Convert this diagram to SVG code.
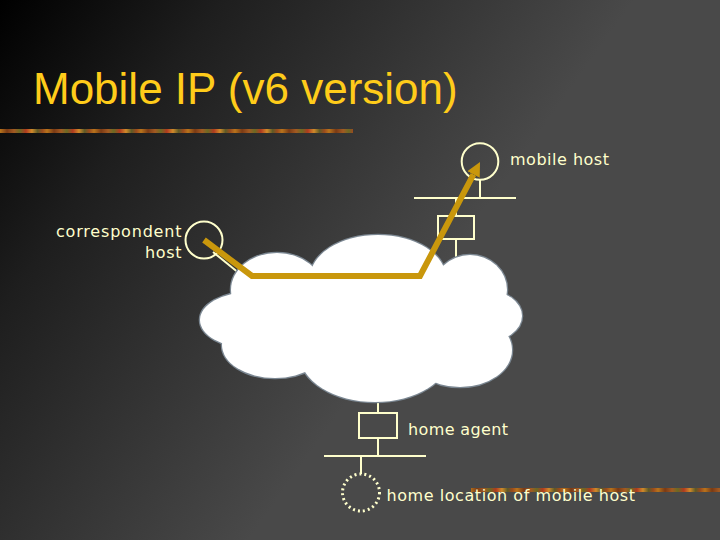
<svg xmlns="http://www.w3.org/2000/svg" width="720" height="540" viewBox="0 0 720 540">
  <defs>
    <linearGradient id="bg" gradientUnits="userSpaceOnUse" x1="0" y1="0" x2="420" y2="300">
      <stop offset="0" stop-color="#000000"/>
      <stop offset="0.35" stop-color="#1e1e1e"/>
      <stop offset="1" stop-color="#494949"/>
    </linearGradient>
    <linearGradient id="bar" gradientUnits="userSpaceOnUse" x1="0" y1="0" x2="47" y2="0" spreadMethod="repeat">
      <stop offset="0" stop-color="#b8741c"/>
      <stop offset="0.15" stop-color="#7a3a14"/>
      <stop offset="0.3" stop-color="#a35a22"/>
      <stop offset="0.42" stop-color="#6b6a23"/>
      <stop offset="0.55" stop-color="#b03a1e"/>
      <stop offset="0.68" stop-color="#d08a2a"/>
      <stop offset="0.8" stop-color="#5e5a26"/>
      <stop offset="0.9" stop-color="#9a4a1c"/>
      <stop offset="1" stop-color="#b8741c"/>
    </linearGradient>
    <marker id="ahead" viewBox="0 -7 14 14" refX="0" refY="0" markerWidth="14" markerHeight="14" markerUnits="userSpaceOnUse" orient="auto">
      <path d="M0,-7 L14,0 L0,7 z" fill="#c9970c"/>
    </marker>
  </defs>
  <style>
    .title { font-family: "Liberation Sans", Arial, sans-serif; font-size: 44px; fill: #ffcc1a; }
    .lbl { font-family: "DejaVu Sans", "Liberation Sans", sans-serif; font-size: 16px; fill: #ffffcc; }
    .net { stroke: #ffffcc; stroke-width: 2; fill: none; }
    .cloudo { fill: #ffffff; stroke: #7b8792; stroke-width: 2.5; }
    .cloudi { fill: #ffffff; stroke: none; }
    .route { stroke: #c9970c; stroke-width: 6; fill: none; stroke-linejoin: miter; }
  </style>

  <rect width="720" height="540" fill="url(#bg)"/>
  <rect x="0" y="129" width="353" height="4" fill="url(#bar)"/>
  <rect x="471" y="488" width="249" height="4" fill="url(#bar)"/>

  <text class="title" x="33" y="104">Mobile IP (v6 version)</text>

  <g id="connectors">
    <line class="net" x1="480" y1="180" x2="480" y2="198"/>
    <line class="net" x1="414" y1="198" x2="516" y2="198"/>
    <line class="net" x1="456" y1="198" x2="456" y2="216"/>
    <line class="net" x1="456" y1="239" x2="456" y2="262"/>
    <line class="net" x1="378" y1="396" x2="378" y2="413"/>
    <line class="net" x1="378" y1="438" x2="378" y2="456"/>
    <line class="net" x1="324" y1="456" x2="426" y2="456"/>
    <line class="net" x1="361" y1="456" x2="361" y2="474"/>
    <line class="net" x1="213" y1="252" x2="245" y2="278"/>
  </g>

  <g id="internet">
    <g class="cloudo">
      <ellipse cx="277" cy="290" rx="46" ry="37"/>
      <ellipse cx="378" cy="278" rx="68" ry="43"/>
      <ellipse cx="470" cy="290" rx="37" ry="35"/>
      <ellipse cx="485" cy="316" rx="37" ry="26"/>
      <ellipse cx="460" cy="350" rx="52" ry="37"/>
      <ellipse cx="375" cy="355" rx="75" ry="47"/>
      <ellipse cx="275" cy="345" rx="53" ry="33"/>
      <ellipse cx="250" cy="320" rx="50" ry="28"/>
    </g>
    <g class="cloudi">
      <ellipse cx="277" cy="290" rx="46" ry="37"/>
      <ellipse cx="378" cy="278" rx="68" ry="43"/>
      <ellipse cx="470" cy="290" rx="37" ry="35"/>
      <ellipse cx="485" cy="316" rx="37" ry="26"/>
      <ellipse cx="460" cy="350" rx="52" ry="37"/>
      <ellipse cx="375" cy="355" rx="75" ry="47"/>
      <ellipse cx="275" cy="345" rx="53" ry="33"/>
      <ellipse cx="250" cy="320" rx="50" ry="28"/>
      <ellipse cx="365" cy="320" rx="130" ry="55"/>
    </g>
  </g>

  <g id="foreign-router">
    <rect class="net" x="438" y="216" width="36" height="23"/>
  </g>

  <g id="home-agent">
    <rect class="net" x="359" y="413" width="38" height="25"/>
    <text class="lbl" x="408" y="435" textLength="100" lengthAdjust="spacing">home agent</text>
  </g>

  <g id="mobile-host">
    <circle class="net" cx="480" cy="161.5" r="18.3"/>
    <text class="lbl" x="510" y="165" textLength="99" lengthAdjust="spacing">mobile host</text>
  </g>

  <g id="correspondent-host">
    <circle class="net" cx="204" cy="240" r="18.5"/>
    <text class="lbl" x="56" y="237" textLength="125.5" lengthAdjust="spacing">correspondent</text>
    <text class="lbl" x="145" y="258" textLength="36.5" lengthAdjust="spacing">host</text>
  </g>

  <g id="home-location">
    <circle cx="361" cy="492.5" r="18.5" fill="none" stroke="#ffffcc" stroke-width="3" stroke-dasharray="2 3"/>
    <text class="lbl" x="386.5" y="500.5" textLength="248.5" lengthAdjust="spacing">home location of mobile host</text>
  </g>

  <g id="route">
    <path class="route" d="M204,240 L252,276 L420,276 L473.5,174.4" marker-end="url(#ahead)"/>
  </g>
</svg>
